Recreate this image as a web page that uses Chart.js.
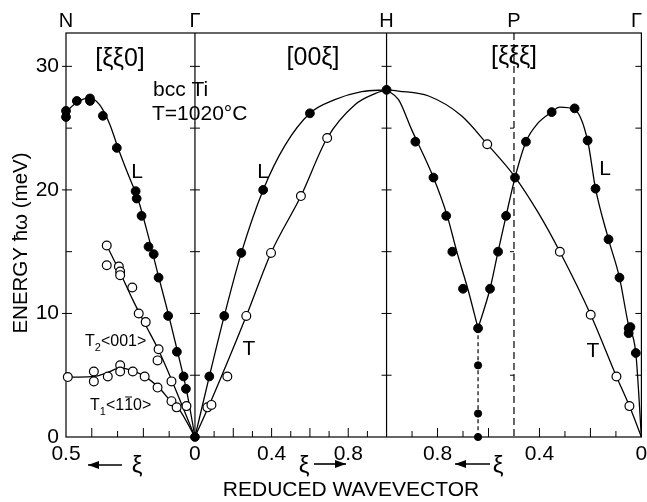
<!DOCTYPE html>
<html>
<head>
<meta charset="utf-8">
<script src="https://cdn.jsdelivr.net/npm/chart.js@4.4.0/dist/chart.umd.min.js"></script>
<style>
  html, body { margin: 0; padding: 0; background: #fff; }
  #wrap { width: 647px; height: 502px; }
</style>
</head>
<body>
<div id="wrap"><canvas id="myChart" width="647" height="502"></canvas></div>
<script>
// x axis is built from three branches, Gamma-H counts as 1
const W1 = 0.673, W3 = 1.33;
const XMAX = W1 + 1 + W3;
const pN = xi => (0.5 - xi) * 2 * W1;     // [xi xi 0]  N -> Gamma
const pD = xi => W1 + xi;                 // [0 0 xi]   Gamma -> H
const pH = xi => W1 + 1 + (1 - xi) * W3;  // [xi xi xi] H -> P -> Gamma

// ---- measured points (xi, energy meV) ----
// [ξξ0]
const xi110L  = [0.5, 0.5, 0.458, 0.407, 0.407, 0.357, 0.303, 0.23, 0.226, 0.207, 0.18, 0.16, 0.141, 0.104, 0.07, 0.044, 0.035, 0];
const e110L   = [26.4, 25.9, 27.2, 27.4, 27.2, 26.0, 23.4, 19.9, 19.3, 17.9, 15.4, 14.8, 12.9, 9.8, 6.9, 4.9, 3.9, 0];
const xi110T2 = [0.342, 0.342, 0.295, 0.29, 0.29, 0.243, 0.218, 0.191, 0.141, 0.145, 0.091, 0.033];
const e110T2  = [15.5, 13.9, 13.8, 13.4, 13.1, 12.1, 10.0, 9.3, 7.1, 6.2, 4.5, 2.5];
const xi110T1 = [0.493, 0.392, 0.392, 0.338, 0.29, 0.29, 0.241, 0.195, 0.145, 0.091, 0.071];
const e110T1  = [4.85, 5.3, 4.5, 4.9, 5.8, 5.3, 5.3, 4.9, 4.0, 2.9, 2.4];
// [00ξ]
const xi001L  = [0.075, 0.153, 0.242, 0.356, 0.60, 1.0];
const e001L   = [4.9, 9.8, 14.9, 20.0, 26.2, 28.1];
const xi001T  = [0.065, 0.086, 0.169, 0.268, 0.397, 0.553, 0.69];
const e001T   = [2.4, 2.6, 4.9, 9.8, 14.9, 19.5, 24.2];
// [ξξξ]
const xi111L  = [0.887, 0.816, 0.766, 0.742, 0.70, 0.641, 0.594, 0.5625, 0.531, 0.496, 0.453, 0.352, 0.262, 0.211, 0.18, 0.129, 0.086, 0.05, 0.043, 0.05, 0.022];
const e111L   = [23.9, 21.0, 17.9, 15.0, 12.0, 8.8, 12.0, 15.0, 17.9, 21.0, 23.9, 26.3, 26.6, 24.0, 20.1, 16.0, 12.9, 8.8, 8.9, 8.4, 6.8];
const xi111D  = [0.641, 0.641, 0.641];
const e111D   = [5.8, 1.9, 0];
const xi111T  = [0.605, 0.32, 0.199, 0.098, 0.047];
const e111T   = [23.7, 15.0, 9.9, 4.9, 2.5];

// ---- drawn dispersion curves ----
const c110L_xi  = [0.5, 0.46, 0.41, 0.37, 0.33, 0.30, 0.26, 0.22, 0.18, 0.14, 0.10, 0.065, 0.03, 0];
const c110L_e   = [26.3, 27.05, 27.45, 26.9, 25.3, 23.5, 21.3, 19.2, 16.2, 12.9, 9.7, 6.7, 3.5, 0];
const c110T2_xi = [0.342, 0.29, 0.241, 0.19, 0.145, 0.09, 0.045, 0];
const c110T2_e  = [15.5, 13.3, 11.1, 9.0, 7.2, 4.6, 2.3, 0];
const c110T1_xi = [0.5, 0.45, 0.39, 0.34, 0.29, 0.24, 0.19, 0.14, 0.09, 0.06, 0];
const c110T1_e  = [4.85, 4.85, 4.9, 5.2, 5.6, 5.35, 4.85, 4.0, 2.8, 2.2, 0];
const c001L_xi  = [0, 0.075, 0.153, 0.242, 0.356, 0.47, 0.60, 0.73, 0.87, 1.0];
const c001L_e   = [0, 4.9, 9.8, 14.9, 20.0, 23.6, 26.2, 27.3, 27.95, 28.1];
const c001T_xi  = [0, 0.086, 0.268, 0.397, 0.553, 0.69, 0.835, 0.94, 1.0];
const c001T_e   = [0, 3.0, 9.8, 14.9, 19.5, 24.2, 26.9, 27.8, 28.1];
const c111La_xi = [1.0, 0.953, 0.902, 0.816, 0.762, 0.723, 0.68, 0.641];
const c111La_e  = [28.1, 27.3, 24.9, 21.0, 17.9, 14.9, 11.9, 8.8];
const c111Lb_xi = [0.641, 0.594, 0.5625, 0.531, 0.496, 0.453, 0.406, 0.352, 0.321, 0.262, 0.211, 0.18, 0.129, 0.086, 0.052, 0.022, 0];
const c111Lb_e  = [8.8, 12.0, 15.0, 17.9, 21.0, 23.9, 25.4, 26.3, 26.7, 26.5, 24.0, 20.1, 16.0, 12.9, 9.2, 6.8, 0];
const c111T_xi  = [1.0, 0.953, 0.835, 0.706, 0.605, 0.498, 0.406, 0.32, 0.199, 0.098, 0.047, 0];
const c111T_e   = [28.1, 28.0, 27.6, 26.0, 23.7, 21.1, 18.2, 15.0, 9.9, 4.9, 2.5, 0];

// axis ticks
const yTicks = [0, 10, 20, 30];
const xTickXi = [[pN, 0.5], [pN, 0], [pD, 0.4], [pD, 0.8], [pH, 0.8], [pH, 0.4], [pH, 0]];
const xTickLabels = ['0.5', '0', '0.4', '0.8', '0.8', '0.4', '0'];
const topLabels = ['N', 'Γ', 'H', 'P', 'Γ'];

const pts = (f, xs, es) => xs.map((v, i) => ({x: f(v), y: es[i]}));

function curve(data, extra) {
  return Object.assign({
    data: data, showLine: true, borderColor: '#000', borderWidth: 1.3,
    pointRadius: 0, fill: false, cubicInterpolationMode: 'monotone', order: 2
  }, extra || {});
}
function dots(data, open, r) {
  return {
    data: data, showLine: false, pointRadius: r || 4.4, pointHoverRadius: 0,
    pointBackgroundColor: open ? '#fff' : '#000', pointBorderColor: '#000',
    pointBorderWidth: open ? 1.2 : 1, order: 0, clip: false
  };
}

const FONT = '"Liberation Sans", Arial, Helvetica, sans-serif';

function txt(ctx, s, x, y, size, align) {
  ctx.font = size + 'px ' + FONT;
  ctx.textAlign = align || 'center';
  ctx.textBaseline = 'middle';
  ctx.fillText(s, x, y);
}
function seg(ctx, x1, y1, x2, y2) {
  ctx.beginPath(); ctx.moveTo(x1, y1); ctx.lineTo(x2, y2); ctx.stroke();
}
function arrow(ctx, from, to, y) {
  seg(ctx, from, y, to, y);
  const d = to > from ? -1 : 1;
  ctx.beginPath();
  ctx.moveTo(to, y); ctx.lineTo(to + d * 11, y - 4); ctx.lineTo(to + d * 11, y + 4);
  ctx.closePath(); ctx.fill();
}

const decor = {
  id: 'decor',
  beforeDatasetsDraw(chart) {
    const {ctx, chartArea: a, scales: {x, y}} = chart;
    ctx.save();
    ctx.strokeStyle = '#000';
    ctx.fillStyle = '#000';
    ctx.lineWidth = 1.2;
    ctx.strokeRect(a.left, a.top, a.right - a.left, a.bottom - a.top);
    const gx = x.getPixelForValue(W1), hx = x.getPixelForValue(W1 + 1), px = x.getPixelForValue(pH(0.5));
    seg(ctx, gx, a.top, gx, a.bottom);
    seg(ctx, hx, a.top, hx, a.bottom);
    ctx.setLineDash([7, 4]);
    seg(ctx, px, a.top, px, a.bottom);
    ctx.setLineDash([]);
    ctx.lineWidth = 1;
    for (let e = 5; e <= 30; e += 5) {
      const py = y.getPixelForValue(e);
      seg(ctx, a.left - (e % 10 ? 0 : 4), py, a.left + 6, py);
      seg(ctx, gx - 5, py, gx + 5, py);
      seg(ctx, hx - 5, py, hx + 5, py);
      seg(ctx, a.right - 6, py, a.right, py);
      if (e % 10) seg(ctx, px - 4, py, px, py);
    }
    const tick = (v, big) => { const tx = x.getPixelForValue(v); seg(ctx, tx, a.bottom, tx, a.bottom - (big ? 9 : 6)); };
    for (let k = 1; k <= 4; k++) tick(pN(k / 10), k % 2 === 0);
    for (let k = 1; k <= 9; k++) tick(pD(k / 10), k % 2 === 0);
    for (let k = 1; k <= 9; k++) if (k !== 5) tick(pH(k / 10), k % 2 === 0);
    ctx.restore();
  },
  afterDatasetsDraw(chart) {
    const {ctx, chartArea: a, scales: {x, y}} = chart;
    ctx.save();
    ctx.fillStyle = '#000';
    ctx.strokeStyle = '#000';
    ctx.lineWidth = 1.3;
    // symmetry points on top
    const topX = [0, W1, W1 + 1, pH(0.5), XMAX].map(v => x.getPixelForValue(v));
    topX[4] -= 5;
    topLabels.forEach((s, i) => txt(ctx, s, topX[i], 21, 20));
    // direction labels
    txt(ctx, '[ξξ0]', 120, 59, 25);
    txt(ctx, '[00ξ]', 313, 58, 25);
    txt(ctx, '[ξξξ]', 514, 57, 25);
    txt(ctx, 'bcc Ti', 153, 90, 21, 'left');
    txt(ctx, 'T=1020°C', 152, 114, 21, 'left');
    // branch labels
    txt(ctx, 'L', 137, 172, 21);
    txt(ctx, 'L', 263, 172, 21);
    txt(ctx, 'T', 249, 349, 21);
    txt(ctx, 'L', 605, 169, 21);
    txt(ctx, 'T', 593, 351, 21);
    // T2<001>
    ctx.font = '16px ' + FONT; ctx.textAlign = 'left'; ctx.textBaseline = 'middle';
    let cx = 85;
    ctx.fillText('T', cx, 342); cx += ctx.measureText('T').width;
    ctx.font = '11px ' + FONT; ctx.fillText('2', cx, 348); cx += ctx.measureText('2').width;
    ctx.font = '16px ' + FONT; ctx.fillText('<001>', cx, 342);
    // T1<1-10>
    cx = 90;
    ctx.fillText('T', cx, 406); cx += ctx.measureText('T').width;
    ctx.font = '11px ' + FONT; ctx.fillText('1', cx, 412); cx += ctx.measureText('1').width;
    ctx.font = '16px ' + FONT;
    ctx.fillText('<1', cx, 406); cx += ctx.measureText('<1').width;
    const w1 = ctx.measureText('1').width;
    ctx.fillText('1', cx, 406);
    ctx.lineWidth = 1; seg(ctx, cx + 1, 397, cx + w1 - 1, 397);
    cx += w1;
    ctx.fillText('0>', cx, 406);
    // xi arrows under the axis
    ctx.lineWidth = 1.6;
    arrow(ctx, 122, 88, 465);
    txt(ctx, 'ξ', 137, 466, 24);
    txt(ctx, 'ξ', 304, 466, 24);
    arrow(ctx, 314, 346, 464);
    arrow(ctx, 490, 455, 464);
    txt(ctx, 'ξ', 498, 466, 24);
    // axis titles
    txt(ctx, 'REDUCED WAVEVECTOR', 351, 490, 21);
    ctx.translate(21, 243);
    ctx.rotate(-Math.PI / 2);
    txt(ctx, 'ENERGY ħω (meV)', 0, 0, 20.5);
    ctx.restore();
  }
};

const ctx = document.getElementById('myChart').getContext('2d');
const myChart = new Chart(ctx, {
  type: 'line',
  data: {
    datasets: [
      curve(pts(pN, c110L_xi, c110L_e)),
      curve(pts(pN, c110T2_xi, c110T2_e)),
      curve(pts(pN, c110T1_xi, c110T1_e)),
      curve(pts(pD, c001L_xi, c001L_e)),
      curve(pts(pD, c001T_xi, c001T_e)),
      curve(pts(pH, c111La_xi, c111La_e)),
      curve(pts(pH, c111Lb_xi, c111Lb_e)),
      curve(pts(pH, c111T_xi, c111T_e)),
      curve([{x: pH(0.641), y: 8.8}, {x: pH(0.641), y: 0}], {cubicInterpolationMode: 'default', tension: 0, borderDash: [4, 3], borderWidth: 1.2}),
      dots(pts(pN, xi110L, e110L), false),
      dots(pts(pN, xi110T2, e110T2), true),
      dots(pts(pN, xi110T1, e110T1), true),
      dots(pts(pD, xi001L, e001L), false),
      dots(pts(pD, xi001T, e001T), true),
      dots(pts(pH, xi111L, e111L), false),
      dots(pts(pH, xi111D, e111D), false, 3.6),
      dots(pts(pH, xi111T, e111T), true)
    ]
  },
  options: {
    responsive: false,
    animation: false,
    devicePixelRatio: 1,
    layout: { padding: { top: 33, right: 3, left: 0, bottom: 0 } },
    plugins: { legend: { display: false }, tooltip: { enabled: false } },
    scales: {
      x: {
        type: 'linear', min: 0, max: XMAX,
        grid: { display: false, drawTicks: false },
        border: { display: false },
        afterBuildTicks: s => { s.ticks = xTickXi.map(t => ({value: t[0](t[1])})); },
        afterFit: s => { s.height = 65; s.paddingLeft = 0; s.paddingRight = 0; },
        ticks: {
          autoSkip: false, maxRotation: 0, padding: 5, color: '#000',
          font: { size: 21, family: FONT },
          callback: (v, i) => xTickLabels[i]
        }
      },
      y: {
        min: 0, max: 32.7,
        grid: { display: false, drawTicks: false },
        border: { display: false },
        afterBuildTicks: s => { s.ticks = yTicks.map(v => ({value: v})); },
        afterFit: s => { s.width = 66; },
        ticks: { padding: 7, color: '#000', font: { size: 21, family: FONT } }
      }
    }
  },
  plugins: [decor]
});
</script>
</body>
</html>
